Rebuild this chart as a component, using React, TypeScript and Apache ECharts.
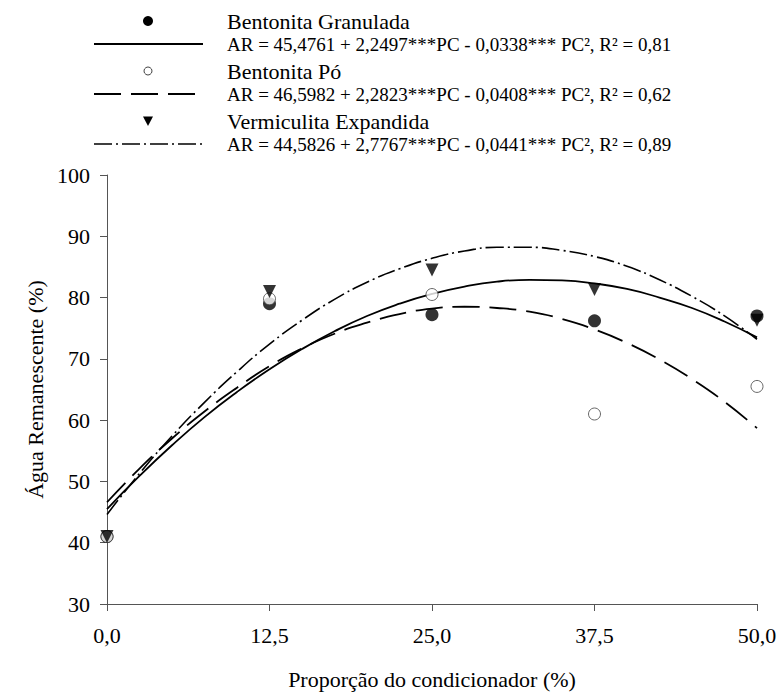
import React, { useEffect, useRef } from "react";
import * as echarts from "echarts";

const xPoints = [0, 12.5, 25, 37.5, 50];
const granuladaObs = [41, 79, 77.2, 76.2, 77];
const poObs = [41, 79.8, 80.5, 61, 65.5];
const vermiculitaObs = [41, 81, 84.5, 81.3, 76.3];

const curveX = [0, 2.5, 5, 7.5, 10, 12.5, 15, 17.5, 20, 22.5, 25, 27.5, 30, 32.5, 35, 37.5, 40, 42.5, 45, 47.5, 50];
const granuladaFit = [45.5, 50.9, 55.9, 60.5, 64.6, 68.3, 71.6, 74.5, 77.0, 79.0, 80.6, 81.8, 82.6, 82.9, 82.8, 82.3, 81.4, 80.0, 78.3, 76.1, 73.5];
const poFit = [46.6, 52.1, 57.0, 61.4, 65.3, 68.8, 71.7, 74.1, 75.9, 77.3, 78.2, 78.5, 78.3, 77.7, 76.5, 74.8, 72.6, 69.9, 66.7, 63.0, 58.7];
const vermiculitaFit = [44.6, 51.3, 57.4, 62.9, 67.9, 72.4, 76.3, 79.7, 82.5, 84.7, 86.4, 87.6, 88.2, 88.2, 87.7, 86.7, 85.1, 82.9, 80.2, 77.0, 73.2];

const xTicks = ["0,0", "12,5", "25,0", "37,5", "50,0"];
const legendNames = ["Bentonita Granulada", "Bentonita Pó", "Vermiculita Expandida"];
const legendEquations = [
  "AR = 45,4761 + 2,2497***PC - 0,0338*** PC², R² = 0,81",
  "AR = 46,5982 + 2,2823***PC - 0,0408*** PC², R² = 0,62",
  "AR = 44,5826 + 2,7767***PC - 0,0441*** PC², R² = 0,89",
];

const FONT = "'Liberation Serif', 'Times New Roman', serif";

export default function App() {
  const ref = useRef<HTMLDivElement>(null);
  useEffect(() => {
    document.body.style.margin = "0";
    if (!ref.current) return;
    const chart = echarts.init(ref.current, undefined, { renderer: "svg" });
    const pair = (xs: number[], ys: number[]) => xs.map((x, i) => [x, ys[i]]);
    const lineStyles: any[] = [
      { color: "#000", width: 1.8, type: "solid" },
      { color: "#000", width: 1.8, type: [27, 10] },
      { color: "#000", width: 1.6, type: [18, 4, 2, 4] },
    ];
    const legendGraphics: any[] = [];
    const nameY = [21, 71, 121];
    const eqY = [44, 94, 144];
    const mx = 148;
    legendGraphics.push({ type: "circle", shape: { cx: mx, cy: nameY[0], r: 5 }, style: { fill: "#000" } });
    legendGraphics.push({ type: "circle", shape: { cx: mx, cy: nameY[1], r: 4 }, style: { fill: "#fff", stroke: "#444", lineWidth: 1 } });
    legendGraphics.push({
      type: "polygon",
      shape: { points: [[mx - 5, nameY[2] - 4.5], [mx + 5, nameY[2] - 4.5], [mx, nameY[2] + 5]] },
      style: { fill: "#000" },
    });
    for (let i = 0; i < 3; i++) {
      legendGraphics.push({
        type: "line",
        shape: { x1: 94, y1: eqY[i], x2: 203, y2: eqY[i] },
        style: { stroke: "#000", lineWidth: lineStyles[i].width, lineDash: lineStyles[i].type === "solid" ? null : lineStyles[i].type },
      });
      legendGraphics.push({
        type: "text",
        x: 227,
        y: nameY[i],
        style: { text: legendNames[i], font: `22px ${FONT}`, fill: "#000", verticalAlign: "middle", textAlign: "left" },
      });
      legendGraphics.push({
        type: "text",
        x: 227,
        y: eqY[i],
        style: { text: legendEquations[i], font: `19px ${FONT}`, fill: "#000", verticalAlign: "middle", textAlign: "left" },
      });
    }

    chart.setOption({
      animation: false,
      backgroundColor: "#fff",
      textStyle: { fontFamily: FONT },
      grid: { left: 107, right: 23, top: 175, bottom: 90 },
      xAxis: {
        type: "value",
        min: 0,
        max: 50,
        interval: 12.5,
        name: "Proporção do condicionador (%)",
        nameLocation: "middle",
        nameGap: 64,
        nameTextStyle: { fontSize: 22, color: "#000", fontFamily: FONT },
        axisLine: { lineStyle: { color: "#555", width: 1 } },
        axisTick: { inside: false, length: 7, lineStyle: { color: "#555" } },
        axisLabel: {
          fontSize: 22,
          color: "#000",
          fontFamily: FONT,
          margin: 20,
          formatter: (v: number) => xTicks[Math.round(v / 12.5)] ?? "",
        },
        splitLine: { show: false },
      },
      yAxis: {
        type: "value",
        min: 30,
        max: 100,
        interval: 10,
        name: "Água Remanescente (%)",
        nameLocation: "middle",
        nameGap: 48,
        nameTextStyle: { fontSize: 22, color: "#000", fontFamily: FONT },
        axisLine: { show: true, lineStyle: { color: "#555", width: 1 } },
        axisTick: { show: true, inside: false, length: 7, lineStyle: { color: "#555" } },
        axisLabel: { fontSize: 22, color: "#000", fontFamily: FONT, margin: 17 },
        splitLine: { show: false },
      },
      graphic: legendGraphics,
      series: [
        { type: "line", data: pair(curveX, granuladaFit), smooth: true, showSymbol: false, lineStyle: lineStyles[0], z: 2 },
        { type: "line", data: pair(curveX, poFit), smooth: true, showSymbol: false, lineStyle: lineStyles[1], z: 2 },
        { type: "line", data: pair(curveX, vermiculitaFit), smooth: true, showSymbol: false, lineStyle: lineStyles[2], z: 2 },
        {
          type: "scatter", name: legendNames[0], data: pair(xPoints, granuladaObs), symbol: "circle", symbolSize: 13,
          itemStyle: { color: "#000" }, clip: false, z: 3,
        },
        {
          type: "scatter", name: legendNames[1], data: pair(xPoints, poObs), symbol: "circle", symbolSize: 12,
          itemStyle: { color: "#fff", borderColor: "#444", borderWidth: 1 }, clip: false, z: 4,
        },
        {
          type: "scatter", name: legendNames[2], data: pair(xPoints, vermiculitaObs), symbol: "triangle", symbolRotate: 180, symbolSize: 13,
          itemStyle: { color: "#000" }, clip: false, z: 5,
        },
      ],
    });
    return () => chart.dispose();
  }, []);
  return <div ref={ref} style={{ width: 780, height: 695, position: "absolute", left: 0, top: 0 }} />;
}
